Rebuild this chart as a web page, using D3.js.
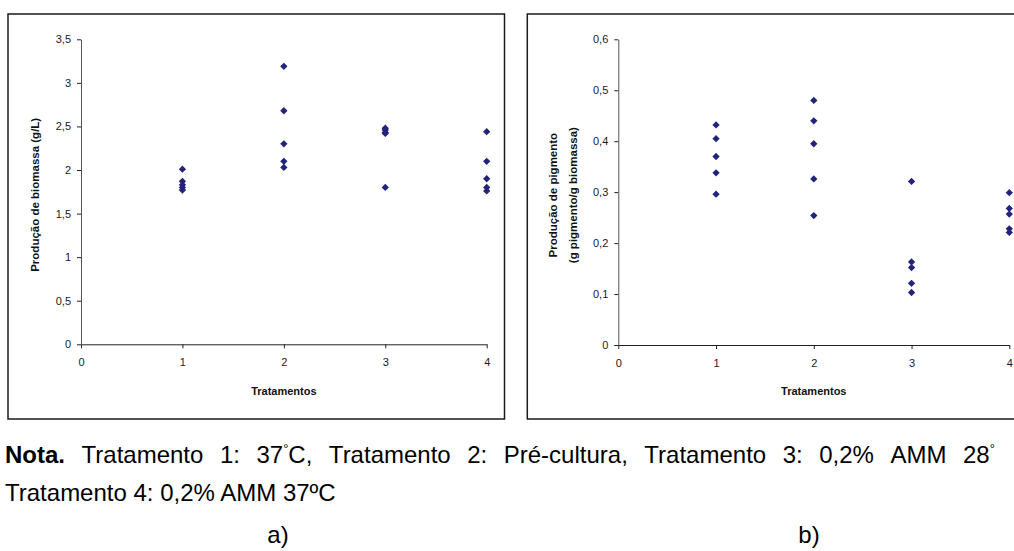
<!DOCTYPE html>
<html>
<head>
<meta charset="utf-8">
<script src="https://cdn.jsdelivr.net/npm/d3@7"></script>
<style>
  body { margin: 0; background: #fff; }
  text { font-family: Arial, "Liberation Sans", sans-serif; }
</style>
</head>
<body>
<script>
// Two scatter plots: biomass (a) and pigment (b) per treatment

// Data
let treatments = [1, 2, 3, 4];
let xTicks = [0, 1, 2, 3, 4];

let biomassa1 = [2.01, 1.87, 1.83, 1.80, 1.77];
let biomassa2 = [3.19, 2.68, 2.30, 2.10, 2.03];
let biomassa3 = [2.48, 2.46, 2.43, 2.42, 1.80];
let biomassa4 = [2.44, 2.10, 1.90, 1.80, 1.76];
let biomassaTicks = [0, 0.5, 1, 1.5, 2, 2.5, 3, 3.5];

let pigmento1 = [0.432, 0.405, 0.370, 0.338, 0.296];
let pigmento2 = [0.480, 0.440, 0.395, 0.326, 0.254];
let pigmento3 = [0.321, 0.163, 0.152, 0.121, 0.103];
let pigmento4 = [0.299, 0.268, 0.257, 0.228, 0.221];
let pigmentoTicks = [0, 0.1, 0.2, 0.3, 0.4, 0.5, 0.6];

// Caption (first line is cut at the page edge in the original)
let nota1 = ["Nota.", "Tratamento", "1:", "37°C,", "Tratamento", "2:", "Pré-cultura,",
             "Tratamento", "3:", "0,2%", "AMM", "28°"];
let nota2 = "Tratamento 4: 0,2% AMM 37ºC";

let svgWidth = 1014;
let svgHeight = 551;

let svg = d3.select("body")
            .append("svg")
            .attr("width", svgWidth)
            .attr("height", svgHeight);

// Comma decimal formatter
let ptBR = d3.formatLocale({decimal: ",", thousands: ".", grouping: [3], currency: ["", ""]});
let fmt = ptBR.format("~g");

let markerColor = "#23237a";

function flatten(groups) {
    let points = [];
    groups.forEach((vals, i) => {
        vals.forEach(v => points.push({x: treatments[i], y: v}));
    });
    return points;
}

function drawPanel(opts) {
    // chart area border
    svg.append("rect")
       .attr("x", opts.frame[0])
       .attr("y", opts.frame[1])
       .attr("width", opts.frame[2])
       .attr("height", opts.frame[3])
       .attr("fill", "none")
       .attr("stroke", "#1a1a1a")
       .attr("stroke-width", 1.5);

    let xScale = d3.scaleLinear()
                   .domain([0, 4])
                   .range([opts.left, opts.right]);

    let yScale = d3.scaleLinear()
                   .domain(opts.yDomain)
                   .range([opts.bottom, opts.top]);

    let bottomAxis = d3.axisBottom(xScale)
                       .tickValues(xTicks)
                       .tickFormat(d3.format("d"))
                       .tickSize(4)
                       .tickSizeOuter(0)
                       .tickPadding(10);

    let leftAxis = d3.axisLeft(yScale)
                     .tickValues(opts.yTicks)
                     .tickFormat(fmt)
                     .tickSize(4)
                     .tickSizeOuter(0)
                     .tickPadding(6);

    let gx = svg.append("g")
                .attr("transform", `translate(0, ${opts.bottom})`)
                .call(bottomAxis);

    let gy = svg.append("g")
                .attr("transform", `translate(${opts.left}, 0)`)
                .call(leftAxis);

    [gx, gy].forEach(g => {
        g.selectAll("text")
         .attr("font-size", "11px")
         .attr("font-family", "Arial, 'Liberation Sans', sans-serif")
         .attr("fill", "#1a1a1a");
        g.select(".domain").attr("stroke", "#222");
        g.selectAll(".tick line").attr("stroke", "#222");
    });
    gy.select(".domain").attr("stroke", "#555");

    // x title
    svg.append("text")
       .attr("x", (opts.left + opts.right) / 2)
       .attr("y", 395)
       .attr("text-anchor", "middle")
       .attr("font-size", "11px")
       .attr("font-weight", "bold")
       .attr("fill", "#111")
       .text("Tratamentos");

    // y title (one or two lines)
    opts.yTitle.forEach((line, i) => {
        svg.append("text")
           .attr("transform", `translate(${opts.yTitleX[i]}, ${(opts.top + opts.bottom) / 2 + 3}) rotate(-90)`)
           .attr("text-anchor", "middle")
           .attr("font-size", "11.5px")
           .attr("font-weight", "bold")
           .attr("fill", "#111")
           .text(line);
    });

    // diamonds
    svg.append("g")
       .selectAll("path")
       .data(flatten(opts.groups))
       .enter()
       .append("path")
       .attr("d", d3.symbol().type(d3.symbolDiamond2).size(34))
       .attr("transform", d => `translate(${xScale(d.x)}, ${yScale(d.y)})`)
       .attr("fill", markerColor);
}

drawPanel({
    frame: [8, 14, 496.5, 405],
    left: 81, right: 486.7, top: 39.3, bottom: 344.3,
    yDomain: [0, 3.5],
    yTicks: biomassaTicks,
    groups: [biomassa1, biomassa2, biomassa3, biomassa4],
    yTitle: ["Produção de biomassa (g/L)"],
    yTitleX: [39]
});

drawPanel({
    frame: [527.3, 14, 520, 405],
    left: 618.3, right: 1009.3, top: 39.3, bottom: 345,
    yDomain: [0, 0.6],
    yTicks: pigmentoTicks,
    groups: [pigmento1, pigmento2, pigmento3, pigmento4],
    yTitle: ["Produção de pigmento", "(g pigmento/g biomassa)"],
    yTitleX: [557, 577]
});

// Caption, first line justified across the page
let captionSize = 24;
let words = svg.append("g");
let wordNodes = nota1.map((w, i) => {
    let t = words.append("text")
                 .attr("y", 463)
                 .attr("font-size", captionSize + "px")
                 .attr("fill", "#000");
    if (i === 0) t.attr("font-weight", "bold");
    let parts = w.split("°");
    if (parts.length > 1) {
        t.append("tspan").text(parts[0]);
        t.append("tspan").attr("font-size", "13px").attr("dy", -10).text("°");
        if (parts[1]) t.append("tspan").attr("dy", 10).text(parts[1]);
    } else {
        t.text(w);
    }
    return t;
});

let firstX = 5;
let lastX = 963;
let widths = wordNodes.map(t => t.node().getComputedTextLength());
let total = d3.sum(widths.slice(0, -1));
let gap = (lastX - firstX - total) / (wordNodes.length - 1);
let cursor = firstX;
wordNodes.forEach((t, i) => {
    t.attr("x", cursor);
    t.selectAll("tspan").filter((d, j) => j === 0).attr("x", cursor);
    cursor += widths[i] + gap;
});

svg.append("text")
   .attr("x", 5)
   .attr("y", 501)
   .attr("font-size", captionSize + "px")
   .attr("fill", "#000")
   .text(nota2);

svg.append("text")
   .attr("x", 278)
   .attr("y", 543)
   .attr("text-anchor", "middle")
   .attr("font-size", captionSize + "px")
   .text("a)");

svg.append("text")
   .attr("x", 809)
   .attr("y", 543)
   .attr("text-anchor", "middle")
   .attr("font-size", captionSize + "px")
   .text("b)");
</script>
</body>
</html>
